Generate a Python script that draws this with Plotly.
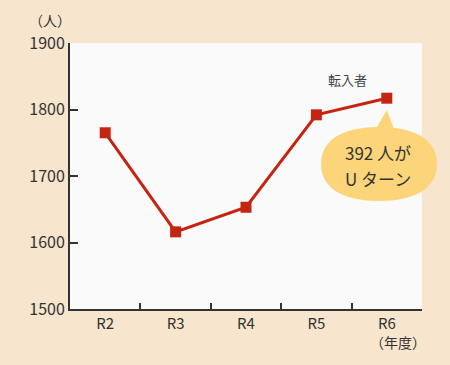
import plotly.graph_objects as go

categories = ["R2", "R3", "R4", "R5", "R6"]
values = [1765, 1616, 1653, 1792, 1817]
y_ticks = [1500, 1600, 1700, 1800, 1900]

W, H = 450, 365
L, R, T, B = 70, 28, 43, 56
PW, PH = W - L - R, H - T - B

def px(x):
    return (x - L) / PW

def py(y):
    return (H - B - y) / PH

FONT = "Noto Sans CJK JP"
BG = "#f8e5cd"
RED = "#c42412"

fig = go.Figure()
fig.add_trace(go.Scatter(
    x=categories, y=values, mode="lines+markers",
    line=dict(color=RED, width=3),
    marker=dict(symbol="square", size=11, color=RED),
    hoverinfo="skip", cliponaxis=False,
))

# speech bubble (paper coords from pixel helpers)
cx, cy, rx, ry = 379, 164, 58, 37
k = 0.64
pts = [
    (cx, cy - ry), (cx + rx * k, cy - ry), (cx + rx, cy - ry * k), (cx + rx, cy),
    (cx + rx, cy + ry * k), (cx + rx * k, cy + ry), (cx, cy + ry),
    (cx - rx * k, cy + ry), (cx - rx, cy + ry * k), (cx - rx, cy),
    (cx - rx, cy - ry * k), (cx - rx * k, cy - ry), (cx, cy - ry),
]
path = f"M {px(pts[0][0])},{py(pts[0][1])}"
for i in range(1, len(pts), 3):
    a, b, c = pts[i], pts[i + 1], pts[i + 2]
    path += f" C {px(a[0])},{py(a[1])} {px(b[0])},{py(b[1])} {px(c[0])},{py(c[1])}"
path += " Z"
fig.add_shape(type="path", xref="paper", yref="paper", path=path,
              fillcolor="#fcd57a", line=dict(width=0), layer="above")
tail = (f"M {px(374)},{py(132)} L {px(387)},{py(110)} L {px(395)},{py(132)} Z")
fig.add_shape(type="path", xref="paper", yref="paper", path=tail,
              fillcolor="#fcd57a", line=dict(width=0), layer="above")

for txt, yy in [("392 人が", 152), ("U ターン", 178)]:
    fig.add_annotation(xref="paper", yref="paper", x=px(378), y=py(yy),
                       text=txt, showarrow=False,
                       font=dict(family=FONT, size=17, color="#333333"),
                       xanchor="center", yanchor="middle")
fig.add_annotation(xref="paper", yref="paper", x=px(347), y=py(79),
                   text="転入者", showarrow=False,
                   font=dict(family=FONT, size=13, color="#444444"),
                   xanchor="center", yanchor="middle")
fig.add_annotation(xref="paper", yref="paper", x=px(50), y=py(20),
                   text="（人）", showarrow=False,
                   font=dict(family=FONT, size=14, color="#333333"),
                   xanchor="center", yanchor="middle")
fig.add_annotation(xref="paper", yref="paper", x=px(398), y=py(342),
                   text="（年度）", showarrow=False,
                   font=dict(family=FONT, size=14, color="#333333"),
                   xanchor="center", yanchor="middle")

fig.update_layout(
    width=W, height=H,
    margin=dict(l=L, r=R, t=T, b=B),
    paper_bgcolor=BG, plot_bgcolor="#fafafa",
    showlegend=False,
    font=dict(family=FONT, color="#333333", size=15),
    xaxis=dict(
        type="category", range=[-0.5, 4.5], showgrid=False,
        showline=True, linecolor="#333333", linewidth=2,
        ticks="inside", tickson="boundaries", ticklen=6, tickwidth=2,
        tickcolor="#333333", tickfont=dict(size=15), fixedrange=True,
    ),
    yaxis=dict(
        range=[1500, 1900], tickvals=y_ticks, showgrid=False, zeroline=False,
        showline=True, linecolor="#333333", linewidth=2,
        ticks="inside", ticklen=8, tickwidth=2, tickcolor="#333333",
        tickfont=dict(size=16), fixedrange=True,
    ),
)

fig.write_html("out.html")
